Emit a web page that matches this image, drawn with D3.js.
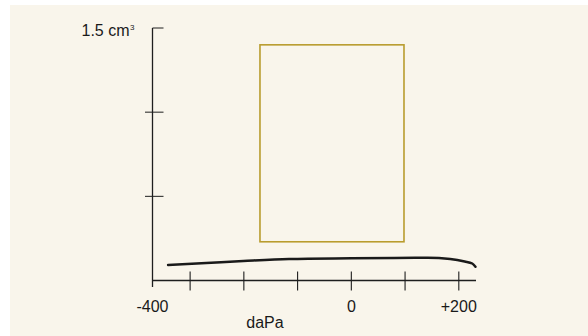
<!DOCTYPE html>
<html><head><meta charset="utf-8">
<script src="https://cdn.jsdelivr.net/npm/d3@7"></script>
<style>
html,body{margin:0;padding:0;background:#fff;}
svg{display:block;font-family:"Liberation Sans",Arial,Helvetica,sans-serif;}
</style></head>
<body>
<svg id="c" width="588" height="336"></svg>
<script>
// ---- data ----
const xDomain = [-370, 232];             // daPa, axis span
const yDomain = [0, 1.5];                // cm³
const xTicks = [-300, -200, -100, 0, 100, 200];
const xLabelValues = [-370, 0, 200];
const xLabelTexts = ["-400", "0", "+200"];
const yTicks = [0.5, 1.0];
const yTopValue = 1.5;
const yTopLabel = "1.5 cm";
// rectangle (normal range box)
const boxX = [-170, 98];
const boxY = [0.23, 1.40];
// tympanogram curve
const curveX = [-341, -270, -201, -116, 0, 80, 142, 184, 211, 225, 231];
const curveY = [0.092, 0.104, 0.116, 0.128, 0.132, 0.134, 0.135, 0.128, 0.113, 0.101, 0.082];

// ---- layout ----
const svg = d3.select("#c");
svg.append("rect").attr("x",10).attr("y",5).attr("width",578).attr("height",331).attr("fill","#f9f5eb");

const x = d3.scaleLinear().domain(xDomain).range([152.5, 476]);
const y = d3.scaleLinear().domain(yDomain).range([280.5, 28]);
const ink = "#1e1e1e";

// normal box
svg.append("rect")
  .attr("x", x(boxX[0])).attr("y", y(boxY[1]))
  .attr("width", x(boxX[1]) - x(boxX[0])).attr("height", y(boxY[0]) - y(boxY[1]))
  .attr("fill","none").attr("stroke","#b99c2e").attr("stroke-width",1.6);

// y axis
svg.append("line").attr("x1",x(xDomain[0])).attr("x2",x(xDomain[0]))
  .attr("y1",y(yTopValue)).attr("y2",287).attr("stroke",ink).attr("stroke-width",1.3);
svg.append("line").attr("x1",x(xDomain[0])).attr("x2",x(xDomain[0])+11)
  .attr("y1",y(yTopValue)).attr("y2",y(yTopValue)).attr("stroke",ink).attr("stroke-width",1);
svg.selectAll(".yt").data(yTicks).enter().append("line")
  .attr("x1",x(xDomain[0])-7.5).attr("x2",x(xDomain[0])+11)
  .attr("y1",d=>y(d)).attr("y2",d=>y(d)).attr("stroke",ink).attr("stroke-width",1);
svg.append("text").attr("x",129.5).attr("y",y(yTopValue)+8).attr("text-anchor","end")
  .attr("font-size",16).attr("fill","#1a1a1a").text(yTopLabel);
svg.append("text").attr("x",130).attr("y",y(yTopValue)+1.5).attr("font-size",8).attr("fill","#1a1a1a").text("3");

// x axis
svg.append("line").attr("x1",x(xDomain[0])).attr("x2",x(xDomain[1]))
  .attr("y1",y(0)).attr("y2",y(0)).attr("stroke",ink).attr("stroke-width",1.3);
svg.selectAll(".xt").data(xTicks).enter().append("line")
  .attr("x1",d=>x(d)).attr("x2",d=>x(d))
  .attr("y1",y(0)-9).attr("y2",y(0)+10).attr("stroke",ink).attr("stroke-width",1.1);
svg.selectAll(".xl").data(xLabelValues).enter().append("text")
  .attr("x",d=>x(d)).attr("y",312).attr("text-anchor","middle")
  .attr("font-size",16).attr("fill","#1a1a1a").text((d,i)=>xLabelTexts[i]);
svg.append("text").attr("x",265).attr("y",328).attr("text-anchor","middle")
  .attr("font-size",16).attr("fill","#1a1a1a").text("daPa");

// curve
const pts = curveX.map((v,i)=>[v, curveY[i]]);
svg.append("path").datum(pts)
  .attr("d", d3.line().x(d=>x(d[0])).y(d=>y(d[1])).curve(d3.curveMonotoneX))
  .attr("fill","none").attr("stroke","#1a1a1a").attr("stroke-width",2.5).attr("stroke-linecap","round");
</script>
</body></html>
